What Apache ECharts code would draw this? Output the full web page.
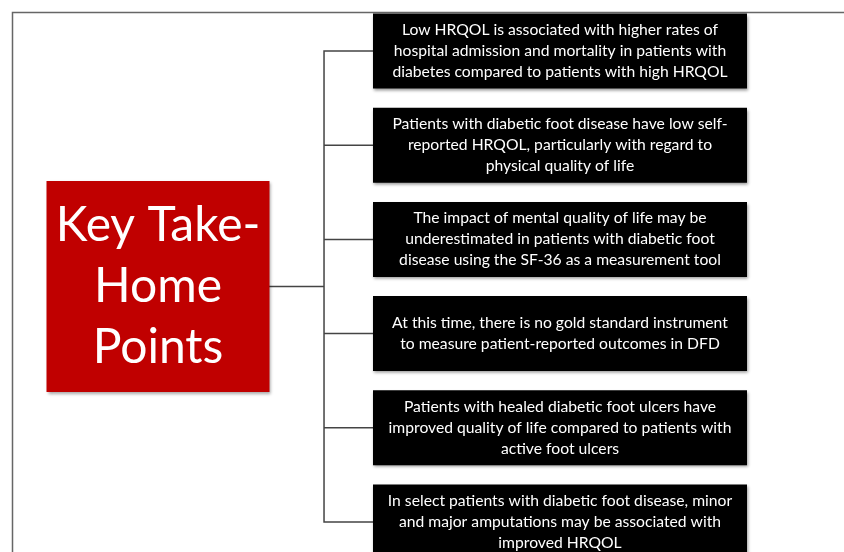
<!DOCTYPE html>
<html><head><meta charset="utf-8">
<script src="https://cdn.jsdelivr.net/npm/echarts@6/dist/echarts.min.js"></script>
<style>html,body{margin:0;padding:0;background:#fff}#c{width:844px;height:552px}</style>
</head><body><div id="c"></div>
<script>
const rootLabel = 'Key Take-\nHome\nPoints';
const points = [
  'Low HRQOL is associated with higher rates of\nhospital admission and mortality in patients with\ndiabetes compared to patients with high HRQOL',
  'Patients with diabetic foot disease have low self-\nreported HRQOL, particularly with regard to\nphysical quality of life',
  'The impact of mental quality of life may be\nunderestimated in patients with diabetic foot\ndisease using the SF-36 as a measurement tool',
  'At this time, there is no gold standard instrument\nto measure patient-reported outcomes in DFD',
  'Patients with healed diabetic foot ulcers have\nimproved quality of life compared to patients with\nactive foot ulcers',
  'In select patients with diabetic foot disease, minor\nand major amputations may be associated with\nimproved HRQOL'
];

const treeData = {
  name: rootLabel,
  symbol: 'rect',
  symbolSize: [223, 211],
  itemStyle: { color: '#c00000', borderWidth: 0, shadowBlur: 3, shadowColor: 'rgba(0,0,0,0.35)', shadowOffsetX: 1, shadowOffsetY: 2 },
  label: { position: 'inside', color: '#fff', fontSize: 48, lineHeight: 61, fontFamily: 'Lato', align: 'center', verticalAlign: 'middle' },
  children: points.map(p => ({ name: p }))
};

const chart = echarts.init(document.getElementById('c'));
chart.setOption({
  backgroundColor: '#fff',
  animation: false,
  graphic: [{
    type: 'rect', shape: { x: 12.5, y: 12.5, width: 900, height: 600 },
    style: { fill: 'none', stroke: '#666', lineWidth: 1.5 }, z: -10
  }],
  series: [{
    type: 'tree',
    data: [treeData],
    orient: 'LR',
    layout: 'orthogonal',
    edgeShape: 'polyline',
    edgeForkPosition: '41.3%',
    expandAndCollapse: false,
    left: 158, width: 402, top: 4, height: 565,
    symbol: 'rect',
    symbolSize: [374, 75],
    itemStyle: { color: '#000', borderWidth: 0, shadowBlur: 3, shadowColor: 'rgba(0,0,0,0.4)', shadowOffsetX: 1, shadowOffsetY: 2 },
    lineStyle: { color: '#444', width: 1.5 },
    label: { position: 'inside', color: '#fff', fontSize: 15.7, lineHeight: 21, fontFamily: 'Lato', align: 'center', verticalAlign: 'middle' },
    leaves: { label: { position: 'inside', color: '#fff', fontSize: 15.7, lineHeight: 21, fontFamily: 'Lato', align: 'center', verticalAlign: 'middle' } },
    emphasis: { disabled: true }
  }]
});
</script></body></html>
